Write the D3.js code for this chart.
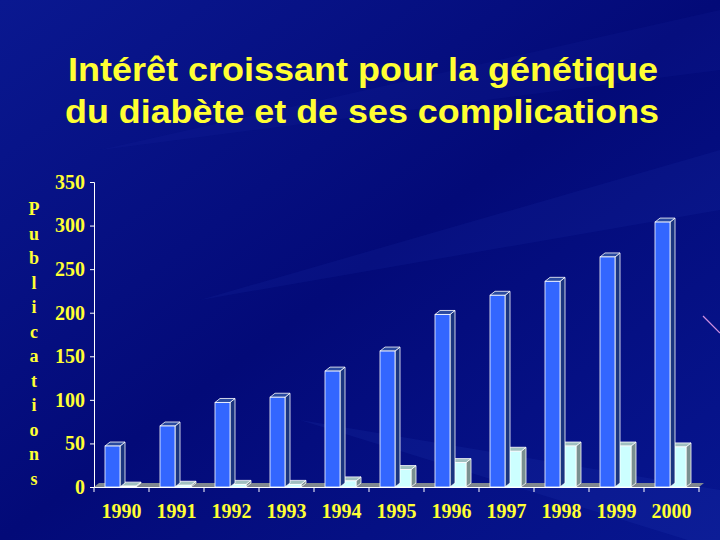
<!DOCTYPE html>
<html><head><meta charset="utf-8">
<script src="https://cdn.jsdelivr.net/npm/d3@7"></script>
<style>body{margin:0;background:#000066}</style></head>
<body><svg id="c" width="720" height="540"></svg>
<script>
const years=["1990","1991","1992","1993","1994","1995","1996","1997","1998","1999","2000"];
const total=[47,70,97,103,133,156,198,220,236,264,304];
const genetics=[1,2,3,3,7,20,28,41,47,47,46];
const yTicks=[0,50,100,150,200,250,300,350];
const yLabel="Publications";

const svg=d3.select("#c");
const defs=svg.append("defs");
const g=defs.append("linearGradient").attr("id","bg").attr("x1","0").attr("y1","0").attr("x2","1").attr("y2","1");
g.append("stop").attr("offset","0").attr("stop-color","#0a1890");
g.append("stop").attr("offset","0.5").attr("stop-color","#030a78");
g.append("stop").attr("offset","1").attr("stop-color","#071690");
svg.append("rect").attr("width",720).attr("height",540).attr("fill","url(#bg)");
[[200,300,720,180,"#2840c0",0.12],[300,420,720,520,"#3050d0",0.12],[100,150,720,40,"#2030b0",0.12]].forEach(s=>{
 svg.append("path").attr("d",`M${s[0]},${s[1]} L${s[2]},${s[3]-30} L${s[2]},${s[3]+30} Z`).attr("fill",s[4]).attr("opacity",s[5]);
});
svg.append("line").attr("x1",703).attr("y1",316).attr("x2",720).attr("y2",333).attr("stroke","#d090e0").attr("stroke-width",1.2);

const tt=svg.append("g").attr("font-family","Liberation Sans, Arial").attr("font-weight","bold").attr("font-size",33).attr("fill","#ffff33").attr("text-anchor","middle");
tt.append("text").attr("x",363).attr("y",81).attr("textLength",590).attr("lengthAdjust","spacingAndGlyphs").text("Intérêt croissant pour la génétique");
tt.append("text").attr("x",362).attr("y",123).attr("textLength",594).attr("lengthAdjust","spacingAndGlyphs").text("du diabète et de ses complications");

const x=d3.scaleBand().domain(years).range([94,699]);
const y=d3.scaleLinear().domain([0,350]).range([487,182]);
const dx=5,dy=4;

svg.append("path").attr("d",`M94,487 L${94+dx},${487-dy} L${699+dx},${487-dy} L699,487 Z`).attr("fill","#808890");

const ya=svg.append("g").attr("transform","translate(94,0)").call(d3.axisLeft(y).tickValues(yTicks).tickSize(4));
ya.select(".domain").attr("stroke","#fff");
ya.selectAll("line").attr("stroke","#fff");
ya.selectAll("text").attr("fill","#ffff33").attr("font-family","Liberation Serif, Times New Roman").attr("font-weight","bold").attr("font-size",20).attr("dx",-2).attr("transform","scale(1,1)");
const xa=svg.append("g").attr("transform","translate(0,487)").call(d3.axisBottom(x).tickSize(5).tickSizeOuter(0));
xa.select(".domain").attr("stroke","#fff");
xa.selectAll("line").attr("stroke","#fff").attr("transform",function(){return `translate(${-x.bandwidth()/2},0)`;});
xa.append("line").attr("x1",699).attr("x2",699).attr("y1",0).attr("y2",5).attr("stroke","#fff");
xa.selectAll("text").attr("fill","#ffff33").attr("font-family","Liberation Serif, Times New Roman").attr("font-weight","bold").attr("font-size",20).attr("dy",23);

function bar3d(gr,x0,w,v,front,side,top){
 const y0=y(0),y1=y(v);
 gr.append("path").attr("d",`M${x0+w},${y0} L${x0+w+dx},${y0-dy} L${x0+w+dx},${y1-dy} L${x0+w},${y1} Z`).attr("fill",side).attr("stroke","#fff").attr("stroke-width",0.8);
 gr.append("path").attr("d",`M${x0},${y1} L${x0+dx},${y1-dy} L${x0+w+dx},${y1-dy} L${x0+w},${y1} Z`).attr("fill",top).attr("stroke","#fff").attr("stroke-width",0.8);
 gr.append("rect").attr("x",x0).attr("y",y1).attr("width",w).attr("height",y0-y1).attr("fill",front).attr("stroke","#fff").attr("stroke-width",0.8);
}
const bars=svg.append("g");
years.forEach((yr,i)=>{
 const bx=x(yr)+11;
 bar3d(bars,bx+15,16,genetics[i],"#ccffff","#7a9090","#a0c0c0");
 bar3d(bars,bx,15,total[i],"#3366ff","#1a3580","#2a4aa0");
});

const yl=svg.append("text").attr("fill","#ffff33").attr("font-family","Liberation Serif, Times New Roman").attr("font-weight","bold").attr("font-size",18).attr("text-anchor","middle");
yLabel.split("").forEach((ch,i)=>yl.append("tspan").attr("x",34).attr("y",215+i*24.5).text(ch));
</script></body></html>
